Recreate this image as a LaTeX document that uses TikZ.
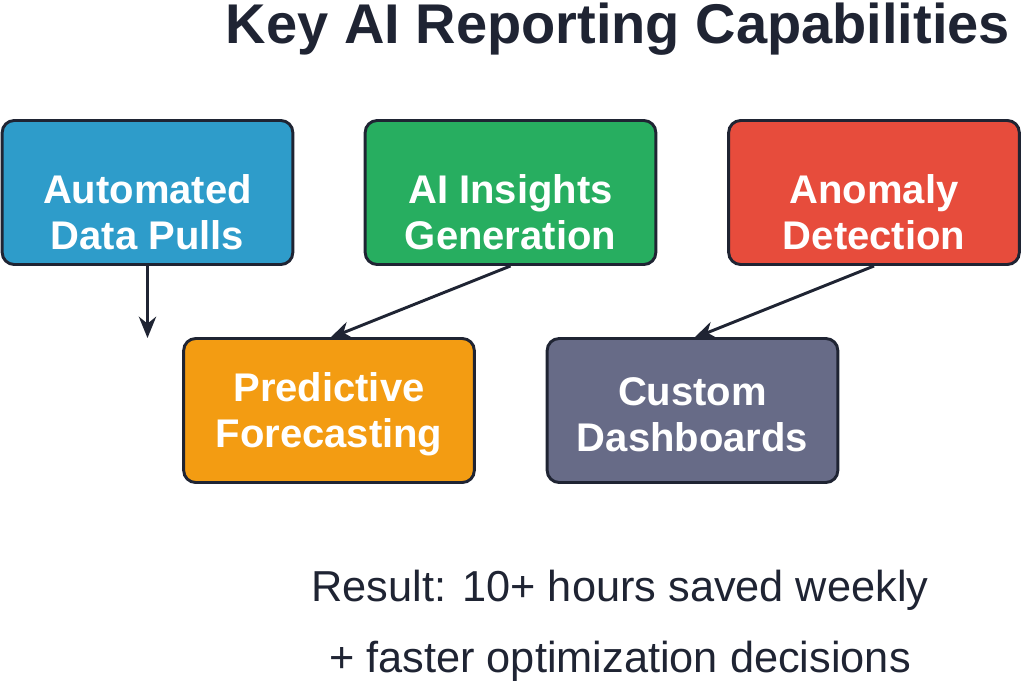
\documentclass[tikz,border=0pt]{standalone}
\usepackage{fontspec}
\setmainfont{Liberation Sans}
\usetikzlibrary{arrows.meta}
\definecolor{inkdark}{HTML}{1F2433}
\definecolor{capblue}{HTML}{2E9CCA}
\definecolor{capgreen}{HTML}{27AE60}
\definecolor{capred}{HTML}{E74C3C}
\definecolor{caporange}{HTML}{F39C12}
\definecolor{capgrey}{HTML}{676B87}
\begin{document}
\begin{tikzpicture}[x=0.75pt,y=-0.75pt,
  capbox/.style={draw=inkdark, line width=2.2pt, rounded corners=9pt,
    minimum width=218pt, minimum height=108pt},
  captext/.style={text=white, font=\fontsize{30}{34.5}\selectfont\bfseries, align=center},
  link/.style={draw=inkdark, line width=2.2pt, -{Stealth[length=16pt,width=13pt]}}]
\useasboundingbox (0,0) rectangle (1024,687);

% Title
\node (title) at (618,29) {\fontsize{42}{45}\selectfont\bfseries\color{inkdark}Key AI Reporting Capabilities};

% Boxes
\node[capbox, fill=capblue] (pulls) at (147.5,192.5) {};
\node[capbox, fill=capgreen] (insights) at (510.5,192.5) {};
\node[capbox, fill=capred] (anomaly) at (874,192.5) {};
\node[capbox, fill=caporange] (forecast) at (329,410.5) {};
\node[capbox, fill=capgrey] (dash) at (692.5,410.5) {};
\node[captext] (pullst) at ([yshift=-15pt]pulls.center) {Automated\\Data Pulls};
\node[captext] (insightst) at ([yshift=-15pt]insights.center) {AI Insights\\Generation};
\node[captext] (anomalyt) at ([yshift=-15pt]anomaly.center) {Anomaly\\Detection};
\node[captext] (forecastt) at ([yshift=-3pt]forecast.center) {Predictive\\Forecasting};
\node[captext] (dasht) at ([yshift=-3pt]dash.center) {Custom\\Dashboards};

% Connectors
\coordinate (pullsend) at (147.5,338);
\draw[link] (pulls.south) -- (pullsend);
\draw[link] (insights.south) -- (330,338);
\draw[link] (anomaly.south) -- (694,338);

% Result
\node[text=inkdark, font=\fontsize{32.5}{34}\selectfont] (res1) at (620,590) {Result: 10+ hours saved weekly};
\node[text=inkdark, font=\fontsize{32.5}{34}\selectfont] (res2) at (620,661) {+ faster optimization decisions};
\end{tikzpicture}
\end{document}
